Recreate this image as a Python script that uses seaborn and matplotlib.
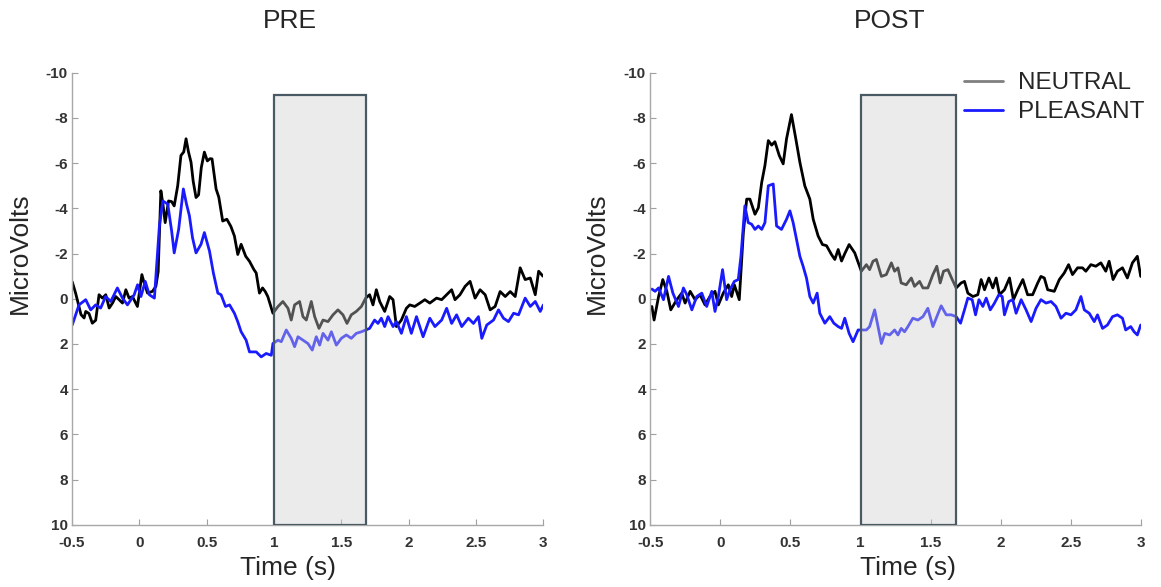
import numpy as np
import matplotlib
matplotlib.use("Agg")
import matplotlib.pyplot as plt
import matplotlib.patches as patches
from matplotlib.lines import Line2D
import seaborn as sns

# ---- data (time in s, amplitude in microvolts) ----
pre_neutral_t = [-0.498, -0.473, -0.433, -0.410, -0.398, -0.374, -0.349, -0.324, -0.299, -0.274,
                 -0.249, -0.224, -0.199, -0.175, -0.150, -0.125, -0.100, -0.076, -0.051, -0.014,
                 0.019, 0.036, 0.061, 0.098, 0.123, 0.140, 0.160, 0.175, 0.192, 0.217,
                 0.240, 0.259, 0.285, 0.309, 0.330, 0.347, 0.365, 0.384, 0.400, 0.421,
                 0.440, 0.460, 0.483, 0.505, 0.525, 0.540, 0.570, 0.590, 0.619, 0.650,
                 0.680, 0.706, 0.731, 0.756, 0.790, 0.818, 0.850, 0.868, 0.892, 0.915,
                 0.935, 0.954, 0.992, 1.030, 1.066, 1.104, 1.128, 1.153, 1.190, 1.215,
                 1.240, 1.277, 1.302, 1.334, 1.364, 1.401, 1.438, 1.475, 1.512, 1.542,
                 1.574, 1.611, 1.649, 1.681, 1.710, 1.735, 1.760, 1.785, 1.822, 1.859,
                 1.884, 1.909, 1.946, 1.983, 2.008, 2.045, 2.083, 2.120, 2.157, 2.207,
                 2.245, 2.282, 2.319, 2.344, 2.381, 2.419, 2.456, 2.493, 2.530, 2.568,
                 2.605, 2.642, 2.679, 2.717, 2.754, 2.791, 2.828, 2.865, 2.903, 2.940,
                 2.965, 2.997]
pre_neutral_v = [-0.75, -0.25, 0.70, 0.85, 0.56, 0.65, 1.08, 0.95, -0.18, -0.03,
                 -0.18, 0.41, 0.19, -0.10, 0.04, 0.19, -0.40, -0.03, -0.10, 0.34,
                 -1.07, -0.70, -0.25, -0.33, -0.55, -1.20, -4.78, -4.20, -3.37, -4.33,
                 -4.30, -4.11, -5.00, -6.34, -6.50, -7.08, -6.50, -6.04, -5.20, -4.48,
                 -4.60, -5.80, -6.49, -6.10, -6.20, -6.19, -4.86, -4.50, -3.44, -3.52,
                 -3.20, -2.78, -1.96, -2.41, -1.88, -1.66, -1.30, -1.14, -0.25, -0.48,
                 -0.32, -0.10, 0.64, 0.34, 0.12, 0.42, 0.94, 0.27, 0.12, 0.79,
                 0.94, 0.12, 0.79, 1.31, 0.94, 1.01, 0.71, 0.49, 0.71, 1.09,
                 0.71, 0.56, 0.34, -0.03, -0.18, 0.27, -0.40, 0.12, 0.56, -0.10,
                 0.04, 1.23, 0.94, 0.42, 0.27, 0.34, 0.19, 0.04, 0.19, -0.03,
                 0.04, -0.18, -0.40, 0.04, -0.18, -0.55, -0.77, -0.03, -0.40, -0.18,
                 0.49, 0.34, -0.32, -0.10, -0.32, -0.10, -1.37, -0.85, -0.92, -0.18,
                 -1.22, -1.00]

pre_pleasant_t = [-0.498, -0.448, -0.398, -0.361, -0.324, -0.287, -0.250, -0.212, -0.163, -0.125,
                  -0.088, -0.038, -0.013, 0.012, 0.044, 0.074, 0.112, 0.149, 0.174, 0.211,
                  0.240, 0.259, 0.292, 0.327, 0.350, 0.372, 0.395, 0.421, 0.458, 0.483,
                  0.521, 0.550, 0.583, 0.607, 0.640, 0.670, 0.706, 0.730, 0.756, 0.793,
                  0.818, 0.868, 0.905, 0.942, 0.980, 0.992, 1.030, 1.054, 1.091, 1.128,
                  1.153, 1.178, 1.215, 1.252, 1.284, 1.314, 1.339, 1.364, 1.401, 1.426,
                  1.463, 1.500, 1.537, 1.574, 1.611, 1.649, 1.681, 1.710, 1.747, 1.772,
                  1.797, 1.822, 1.847, 1.884, 1.909, 1.946, 1.983, 2.020, 2.058, 2.107,
                  2.157, 2.195, 2.245, 2.282, 2.319, 2.356, 2.394, 2.443, 2.481, 2.518,
                  2.543, 2.580, 2.630, 2.667, 2.704, 2.741, 2.779, 2.816, 2.865, 2.903,
                  2.940, 2.977, 3.000]
pre_pleasant_v = [1.16, 0.27, 0.04, 0.49, 0.27, 0.41, -0.10, 0.12, -0.48, -0.03,
                  0.27, -0.18, -0.62, -0.10, -0.77, -0.18, -0.03, -3.22, -4.33, -4.19,
                  -3.00, -2.03, -3.07, -4.86, -4.20, -3.67, -2.70, -2.03, -2.41, -2.93,
                  -2.11, -1.14, -0.25, -0.18, 0.34, 0.27, 0.64, 1.00, 1.46, 1.83,
                  2.35, 2.35, 2.57, 2.42, 2.50, 1.98, 1.83, 1.90, 1.38, 1.75,
                  2.12, 1.68, 1.83, 1.98, 2.27, 1.68, 2.05, 1.53, 1.83, 1.46,
                  2.05, 1.75, 1.60, 1.75, 1.53, 1.46, 1.38, 1.31, 0.94, 1.09,
                  0.86, 1.23, 0.79, 1.23, 1.01, 1.53, 0.79, 1.53, 0.79, 1.68,
                  0.86, 1.23, 0.94, 0.42, 1.09, 0.71, 1.23, 0.86, 1.09, 0.79,
                  1.75, 1.16, 0.94, 0.49, 0.86, 1.01, 0.64, 0.71, -0.03, 0.34,
                  0.12, 0.56, 0.27]

post_neutral_t = [-0.488, -0.472, -0.440, -0.410, -0.381, -0.353, -0.310, -0.275, -0.251, -0.215,
                  -0.180, -0.145, -0.109, -0.074, -0.038, -0.014, 0.021, 0.057, 0.081, 0.100,
                  0.135, 0.164, 0.188, 0.211, 0.247, 0.271, 0.295, 0.318, 0.342, 0.366,
                  0.389, 0.420, 0.448, 0.472, 0.507, 0.538, 0.567, 0.602, 0.638, 0.662,
                  0.697, 0.728, 0.757, 0.792, 0.816, 0.840, 0.864, 0.887, 0.918, 0.958,
                  1.005, 1.041, 1.064, 1.088, 1.112, 1.148, 1.183, 1.219, 1.242, 1.266,
                  1.289, 1.325, 1.361, 1.384, 1.420, 1.444, 1.479, 1.515, 1.543, 1.567,
                  1.591, 1.622, 1.653, 1.681, 1.716, 1.740, 1.764, 1.800, 1.835, 1.859,
                  1.883, 1.914, 1.942, 1.966, 1.990, 2.025, 2.061, 2.089, 2.120, 2.156,
                  2.190, 2.226, 2.262, 2.285, 2.309, 2.333, 2.380, 2.416, 2.451, 2.482,
                  2.510, 2.546, 2.581, 2.605, 2.641, 2.676, 2.712, 2.747, 2.771, 2.799,
                  2.830, 2.866, 2.901, 2.937, 2.972, 2.996]
post_neutral_v = [0.34, 0.94, -0.10, -0.85, -0.33, 0.49, 0.04, -0.25, 0.19, -0.33,
                  0.04, -0.18, 0.27, -0.10, -0.33, 0.27, -0.25, -0.62, -0.10, -0.62,
                  0.04, -2.92, -4.41, -4.41, -3.74, -4.03, -5.15, -5.90, -7.00, -6.80,
                  -6.95, -6.34, -5.97, -7.08, -8.15, -7.08, -6.04, -5.00, -4.41, -3.52,
                  -2.78, -2.40, -2.35, -1.96, -1.74, -2.18, -1.67, -2.00, -2.40, -2.03,
                  -1.22, -1.51, -1.29, -1.66, -1.74, -0.99, -1.07, -1.59, -1.22, -1.37,
                  -0.70, -0.62, -0.92, -0.55, -0.77, -0.48, -0.48, -1.07, -1.44, -0.70,
                  -1.22, -1.29, -0.85, -0.48, -0.70, -0.77, -0.25, -0.10, -0.18, -0.85,
                  -0.40, -0.92, -0.48, -0.92, -0.18, -0.40, -0.92, 0.04, -0.40, -0.85,
                  -0.18, -0.18, -0.70, -0.99, -0.92, -0.40, -0.33, -0.85, -1.14, -1.51,
                  -1.07, -1.37, -1.37, -1.22, -1.51, -1.44, -1.59, -1.22, -1.66, -0.85,
                  -1.22, -1.37, -0.92, -1.59, -1.88, -0.99]

post_pleasant_t = [-0.488, -0.465, -0.440, -0.405, -0.369, -0.338, -0.298, -0.263, -0.239, -0.203,
                   -0.168, -0.132, -0.097, -0.061, -0.038, -0.014, 0.016, 0.045, 0.069, 0.100,
                   0.128, 0.147, 0.175, 0.199, 0.223, 0.247, 0.271, 0.295, 0.318, 0.342,
                   0.377, 0.401, 0.436, 0.472, 0.496, 0.519, 0.543, 0.567, 0.590, 0.614,
                   0.638, 0.662, 0.690, 0.709, 0.745, 0.780, 0.809, 0.840, 0.864, 0.887,
                   0.918, 0.946, 0.982, 1.005, 1.041, 1.064, 1.100, 1.124, 1.148, 1.172,
                   1.207, 1.242, 1.266, 1.289, 1.313, 1.337, 1.372, 1.408, 1.444, 1.479,
                   1.515, 1.543, 1.574, 1.610, 1.646, 1.681, 1.712, 1.740, 1.764, 1.795,
                   1.819, 1.843, 1.871, 1.895, 1.924, 1.954, 1.985, 2.009, 2.025, 2.056,
                   2.084, 2.108, 2.144, 2.179, 2.215, 2.250, 2.285, 2.321, 2.357, 2.392,
                   2.428, 2.463, 2.499, 2.534, 2.570, 2.594, 2.629, 2.665, 2.688, 2.724,
                   2.759, 2.795, 2.830, 2.866, 2.889, 2.925, 2.949, 2.972, 2.996]
post_pleasant_v = [-0.43, -0.33, -0.48, 0.04, -0.99, -0.25, 0.34, -0.48, -0.18, 0.49,
                   -0.10, -0.25, 0.34, -0.33, 0.56, -0.10, -1.29, 0.04, -0.40, -0.77,
                   -0.85, -1.88, -4.11, -3.37, -3.30, -3.07, -3.22, -3.07, -3.37, -5.00,
                   -5.08, -3.22, -3.07, -3.52, -3.89, -3.37, -2.63, -1.88, -1.44, -0.92,
                   -0.10, 0.19, -0.25, 0.64, 1.08, 0.79, 1.08, 1.23, 1.31, 0.86,
                   1.53, 1.90, 1.38, 1.38, 1.38, 1.23, 0.49, 1.23, 1.98, 1.53,
                   1.60, 1.38, 1.60, 1.31, 1.46, 1.23, 0.86, 0.94, 0.79, 0.42,
                   1.23, 0.79, 0.31, 0.71, 0.71, 0.79, 1.08, 0.49, -0.03, 0.04,
                   0.71, 0.04, 0.34, -0.03, 0.49, 0.19, -0.18, -0.10, 0.71, 0.12,
                   0.04, 0.64, 0.04, 0.49, 1.01, 0.42, 0.04, 0.19, 0.12, 0.34,
                   0.86, 0.64, 0.71, 0.49, -0.10, 0.49, 0.64, 1.01, 0.71, 1.31,
                   1.16, 0.79, 0.71, 0.86, 1.38, 1.23, 1.46, 1.60, 1.16]

conditions = ["NEUTRAL", "PLEASANT"]
window = (1.0, 1.68)
x_ticks = [-0.5, 0, 0.5, 1, 1.5, 2, 2.5, 3]
x_tick_labels = ["-0.5", "0", "0.5", "1", "1.5", "2", "2.5", "3"]
y_ticks = [-10, -8, -6, -4, -2, 0, 2, 4, 6, 8, 10]

sns.set_theme(style="ticks")
plt.rcParams["font.family"] = ["Liberation Sans", "DejaVu Sans"]

fig = plt.figure(figsize=(11.61, 5.87), dpi=100)
ax_pre = fig.add_axes([0.062, 0.106, 0.406, 0.770])
ax_post = fig.add_axes([0.560, 0.106, 0.423, 0.770])


def draw_panel(ax, title, neu_t, neu_v, ple_t, ple_v, title_x, xlab_x):
    sns.lineplot(x=neu_t, y=neu_v, ax=ax, color="black", linewidth=2.0,
                 estimator=None, sort=False, zorder=2)
    sns.lineplot(x=ple_t, y=ple_v, ax=ax, color="#1a1aff", linewidth=2.0,
                 estimator=None, sort=False, zorder=2)
    # shaded analysis window, drawn over the traces
    ax.add_patch(patches.Rectangle((window[0], -9), window[1] - window[0], 19,
                                   facecolor="#cfcfcf", alpha=0.4, edgecolor="none", zorder=3))
    ax.add_patch(patches.Rectangle((window[0], -9), window[1] - window[0], 19,
                                   facecolor="none", edgecolor="#4a5a64", linewidth=1.6, zorder=4))
    ax.set_xlim(-0.5, 3)
    ax.set_ylim(10, -10)
    ax.set_xticks(x_ticks)
    ax.set_xticklabels(x_tick_labels)
    ax.set_yticks(y_ticks)
    ax.set_yticklabels([str(v) for v in y_ticks])
    for lab in ax.get_xticklabels() + ax.get_yticklabels():
        lab.set_fontweight("bold")
        lab.set_color("#333333")
        lab.set_fontsize(11)
    ax.tick_params(direction="in", length=4, width=0.8, color="#a0a0a0")
    ax.tick_params(axis="x", pad=8)
    ax.tick_params(axis="y", pad=3)
    sns.despine(ax=ax)
    for s in ["left", "bottom"]:
        ax.spines[s].set_color("#a8a8a8")
        ax.spines[s].set_linewidth(1.0)
    ax.set_title(title, fontsize=19, pad=32, x=title_x)
    ax.set_xlabel("Time (s)", fontsize=19)
    ax.set_ylabel("MicroVolts", fontsize=19)
    ax.xaxis.set_label_coords(xlab_x, -0.068)
    ax.yaxis.set_label_coords(-0.085, 0.60)


draw_panel(ax_pre, "PRE", pre_neutral_t, pre_neutral_v, pre_pleasant_t, pre_pleasant_v, 0.463, 0.459)
draw_panel(ax_post, "POST", post_neutral_t, post_neutral_v, post_pleasant_t, post_pleasant_v, 0.487, 0.525)

handles = [Line2D([], [], color="#7f7f7f", linewidth=2),
           Line2D([], [], color="#1a1aff", linewidth=2)]
ax_post.legend(handles, conditions, loc="upper right", frameon=False, fontsize=17.5,
               bbox_to_anchor=(1.05, 1.05), handlelength=1.6, handletextpad=0.6,
               labelspacing=0.3)

fig.savefig("out.png", dpi=100)
